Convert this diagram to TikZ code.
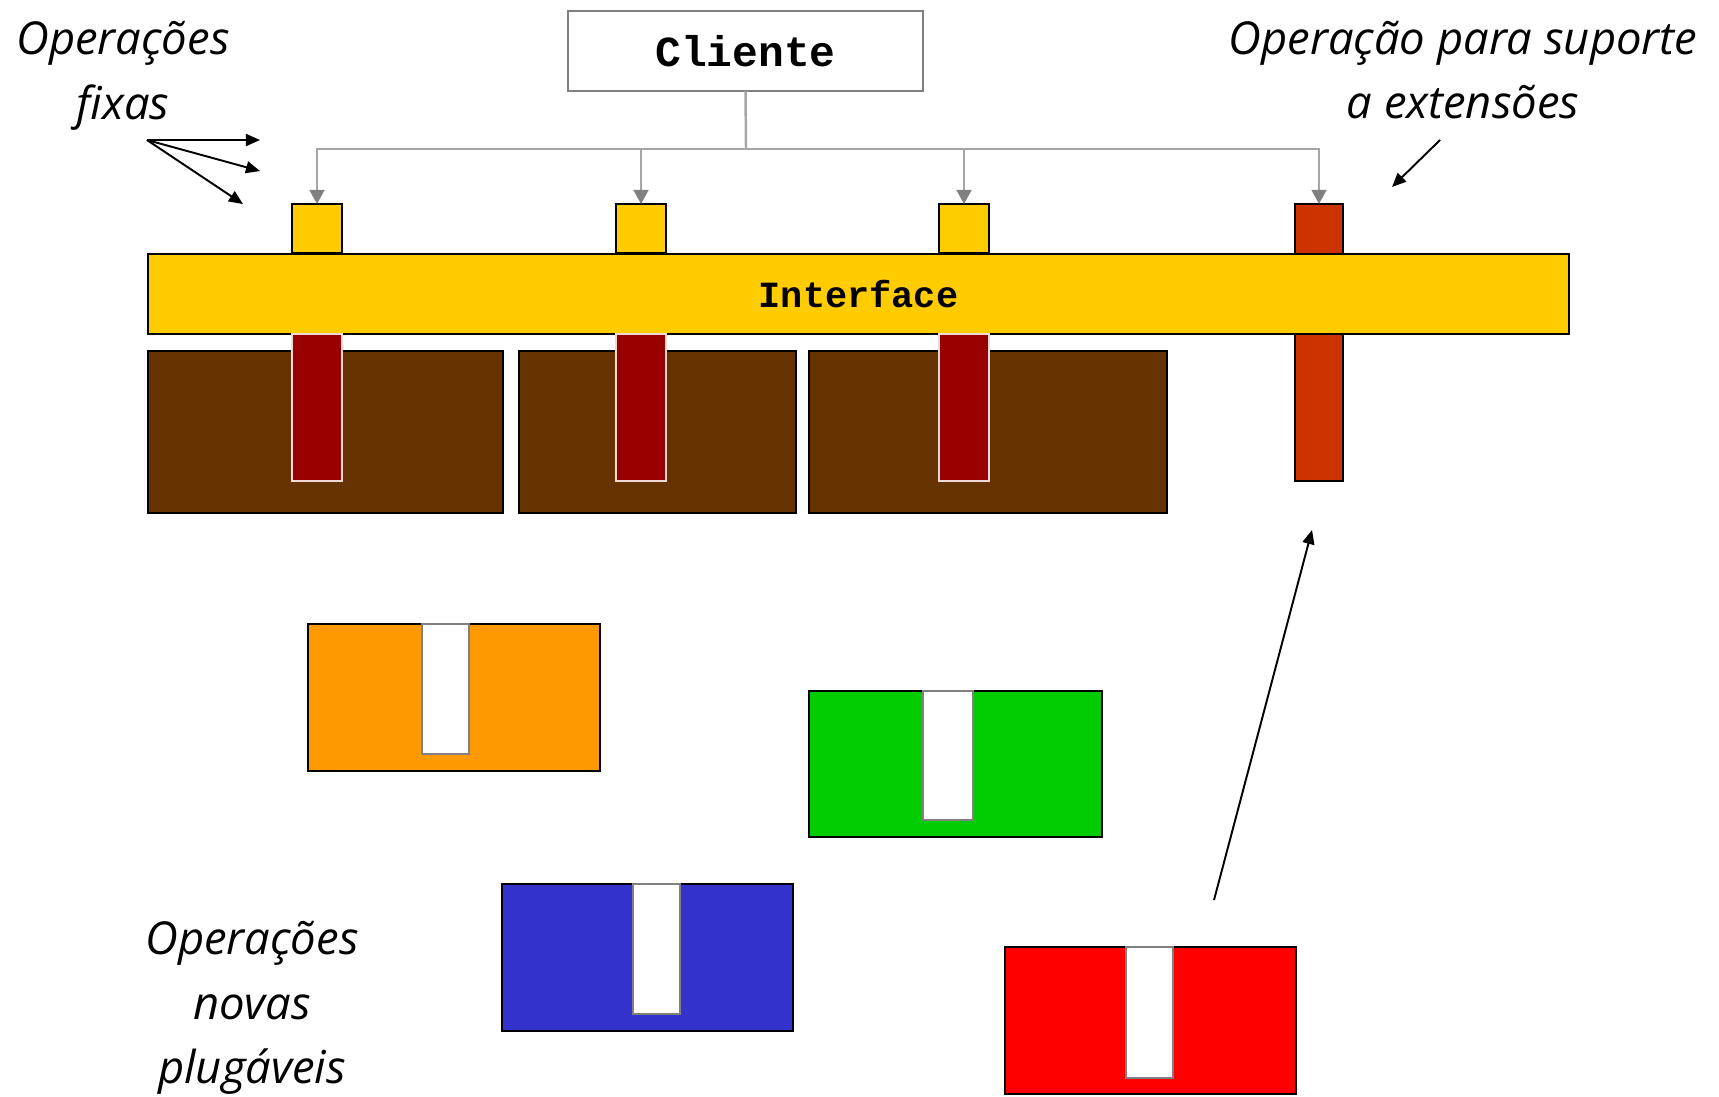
\documentclass[tikz,border=0pt]{standalone}
\usepackage{fontspec}
\newfontfamily\labelfont{Open Sans}
\newfontfamily\codefont{Liberation Mono}
\usetikzlibrary{arrows.meta,positioning,calc}

\definecolor{ifyellow}{HTML}{FFCC00}
\definecolor{extred}{HTML}{CC3300}
\definecolor{pegred}{HTML}{990000}
\definecolor{implbrown}{HTML}{663300}
\definecolor{plugorange}{HTML}{FF9900}
\definecolor{plugblue}{HTML}{3333CC}
\definecolor{pluggreen}{HTML}{00CC00}
\definecolor{plugred}{HTML}{FF0000}
\definecolor{wiregray}{HTML}{A6A6A6}

\tikzset{
  blk/.style={rectangle, draw=black, line width=0.6pt, inner sep=0pt, outer sep=0pt},
  peg/.style={blk, draw=white!85!pegred, fill=pegred, minimum width=0.50cm, minimum height=1.47cm, anchor=north},
  slot/.style={blk, draw=gray, fill=white, minimum width=0.47cm, minimum height=1.30cm, anchor=north},
  wire/.style={draw=wiregray, line width=0.7pt},
  note/.style={font=\labelfont\itshape\fontsize{12.9}{18.4}\selectfont, align=center},
  callout/.style={-{Triangle[length=4pt,width=3.4pt]}, line width=0.55pt}
}

\begin{document}
\begin{tikzpicture}[x=0.01cm, y=-0.01cm]
  \useasboundingbox (0,0) rectangle (1719,1096);

  % Client and interface
  \node (cliente) [blk, draw=gray, minimum width=3.55cm, minimum height=0.80cm,
    font=\codefont\bfseries\fontsize{12.2}{14}\selectfont] at (745.5,51) {Cliente};
  \node (ext) [blk, fill=extred, minimum width=0.48cm, minimum height=2.77cm] at (1319,342.5) {};
  \node (iface) [blk, fill=ifyellow, minimum width=14.21cm, minimum height=0.80cm,
    font=\codefont\bfseries\fontsize{10.5}{12}\selectfont] at (858.5,294) {Interface};
  \node (op1) [blk, fill=ifyellow, minimum width=0.50cm, minimum height=0.49cm] at (317,228.5) {};
  \node (op2) [blk, fill=ifyellow, minimum width=0.50cm, minimum height=0.49cm] at (641,228.5) {};
  \node (op3) [blk, fill=ifyellow, minimum width=0.50cm, minimum height=0.49cm] at (964,228.5) {};

  % Fixed implementations
  \node (impl1) [blk, fill=implbrown, minimum width=3.55cm, minimum height=1.62cm] at (325.5,432) {};
  \node (impl2) [blk, fill=implbrown, minimum width=2.77cm, minimum height=1.62cm] at (657.5,432) {};
  \node (impl3) [blk, fill=implbrown, minimum width=3.58cm, minimum height=1.62cm] at (988,432) {};
  \node (peg1) [peg] at (317,334) {};
  \node (peg2) [peg] at (641,334) {};
  \node (peg3) [peg] at (964,334) {};

  % Pluggable operations
  \node (orange) [blk, fill=plugorange, minimum width=2.92cm, minimum height=1.47cm] at (454,697.5) {};
  \node (slotO) [slot] at (445.5,624) {};
  \node (green) [blk, fill=pluggreen, minimum width=2.93cm, minimum height=1.46cm] at (955.5,764) {};
  \node (slotG) [slot, minimum width=0.50cm, minimum height=1.29cm] at (948,691) {};
  \node (blue) [blk, fill=plugblue, minimum width=2.91cm, minimum height=1.47cm] at (647.5,957.5) {};
  \node (slotB) [slot] at (656.5,884) {};
  \node (red) [blk, fill=plugred, minimum width=2.91cm, minimum height=1.47cm] at (1150.5,1020.5) {};
  \node (slotR) [slot, minimum height=1.31cm] at (1149.5,947) {};

  % Labels
  \node (fixas) [note] at (123,76) {Operações\\fixas};
  \node (suporte) [note] at (1463,70) {Operação para suporte\\a extensões};
  \node (novas) [note] at (252,1008) {Operações\\novas\\plugáveis};

  % Client calls
  \coordinate (bus) at (746,149);
  \draw[wire] (cliente.south) -- (bus);
  \foreach \op in {op1,op2,op3,ext}
    \draw[wire, -{Triangle[length=4pt,width=4.2pt,color=gray]}] (bus) -| (\op.north);

  % Callout arrows
  \coordinate (fixfrom) at (147,140);
  \coordinate (fixA) at (260,140);
  \coordinate (fixB) at (260,171);
  \coordinate (fixC) at (243,204);
  \foreach \t in {fixA,fixB,fixC}
    \draw[callout] (fixfrom) -- (\t);
  \coordinate (extfrom) at (1440,140);
  \coordinate (extto) at (1392,187);
  \draw[callout] (extfrom) -- (extto);
  \coordinate (plugfrom) at (1214,900);
  \coordinate (plugto) at (1312,530);
  \draw[callout] (plugfrom) -- (plugto);
\end{tikzpicture}
\end{document}
